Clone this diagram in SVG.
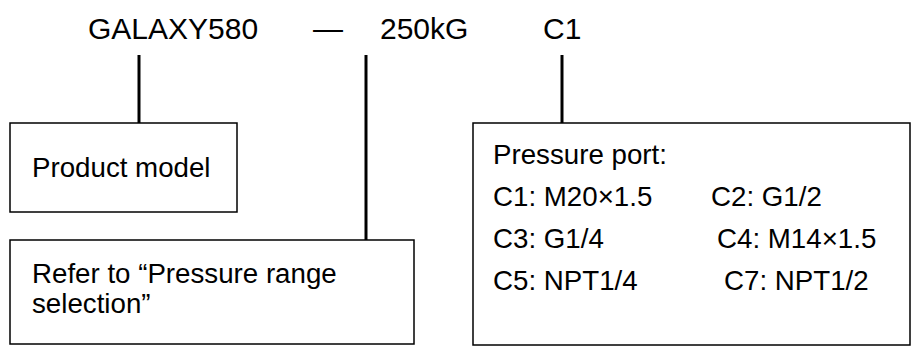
<svg xmlns="http://www.w3.org/2000/svg" width="912" height="347" viewBox="0 0 912 347">
<style>
text{font-family:"Liberation Sans",Arial,sans-serif;fill:#000}
.t{font-size:30px}
.b{font-size:27.7px}
.box{fill:#fff;stroke:#000;stroke-width:1.5}
.ln{stroke:#000;stroke-width:3;fill:none}
</style>
<rect width="912" height="347" fill="#fff"/>
<g id="code">
<text class="t" x="88" y="39">GALAXY580</text>
<text class="t" x="313" y="39">—</text>
<text class="t" x="380" y="39">250kG</text>
<text class="t" x="543" y="39">C1</text>
</g>
<g id="connectors">
<line class="ln" x1="139" y1="55" x2="139" y2="123"/>
<line class="ln" x1="366" y1="55" x2="366" y2="240"/>
<line class="ln" x1="562" y1="55" x2="562" y2="123"/>
</g>
<g id="product-model">
<rect class="box" x="10" y="123" width="227" height="89"/>
<text class="b" x="32" y="177">Product model</text>
</g>
<g id="pressure-range">
<rect class="box" x="10" y="240" width="404" height="104"/>
<text class="b" x="32" y="283">Refer to “Pressure range</text>
<text class="b" x="32" y="313">selection”</text>
</g>
<g id="pressure-port">
<rect class="box" x="473" y="123" width="437" height="222"/>
<text class="b" x="493" y="164">Pressure port:</text>
<text class="b" x="493" y="206">C1: M20×1.5</text>
<text class="b" x="711" y="206">C2: G1/2</text>
<text class="b" x="493" y="248">C3: G1/4</text>
<text class="b" x="717" y="248">C4: M14×1.5</text>
<text class="b" x="493" y="290">C5: NPT1/4</text>
<text class="b" x="724" y="290">C7: NPT1/2</text>
</g>
</svg>
